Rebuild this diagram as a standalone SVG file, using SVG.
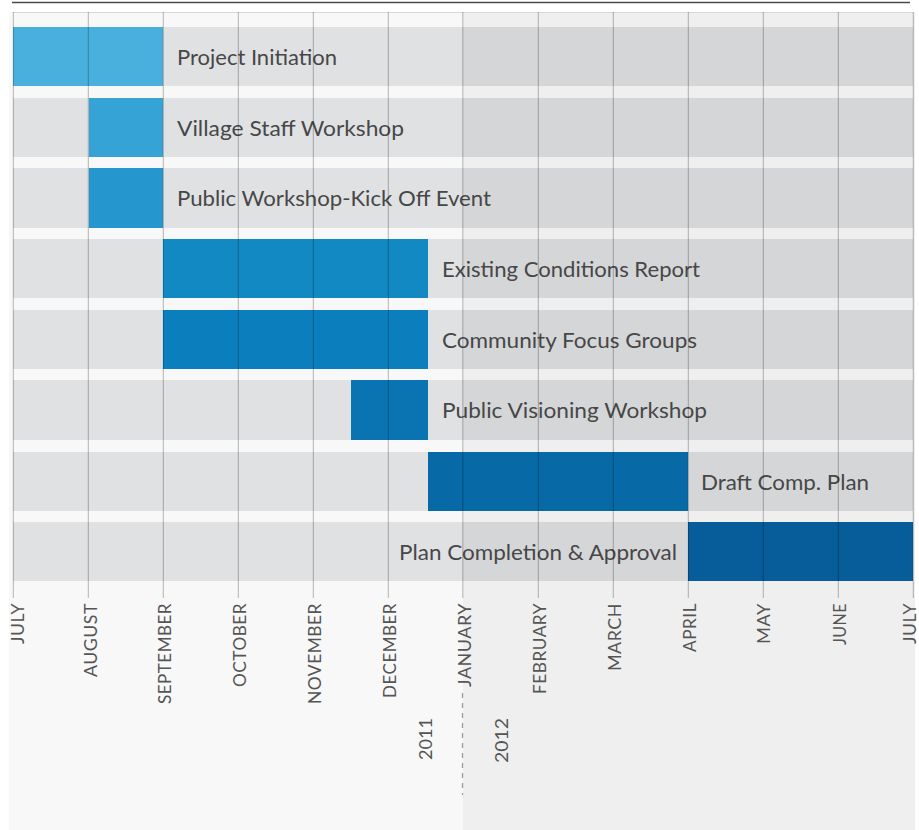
<svg xmlns="http://www.w3.org/2000/svg" width="919" height="830" viewBox="0 0 919 830">
  <style>
    .task { font-family: Lato, "Open Sans", "Liberation Sans", sans-serif; font-size: 21px; fill: #474747; }
    .month { font-family: Lato, "Open Sans", "Liberation Sans", sans-serif; font-size: 17px; fill: #555555; letter-spacing: 0.5px; }
    .year { font-family: Lato, "Open Sans", "Liberation Sans", sans-serif; font-size: 18px; fill: #555555; }
    .row2011 { fill: #e0e1e3; }
    .row2012 { fill: #d5d6d8; }
    .grid { stroke: #000; stroke-opacity: 0.28; stroke-width: 1; }
  </style>

  <rect x="0" y="0" width="919" height="830" fill="#ffffff"/>
  <!-- rule across the top -->
  <line x1="12" y1="2.5" x2="910" y2="2.5" stroke="#4a4a4a" stroke-width="1.5"/>

  <!-- backgrounds: 2011 half and 2012 half -->
  <g id="background">
    <rect x="9" y="12" width="454" height="818" fill="#f8f8f8"/>
    <rect x="463" y="12" width="452" height="818" fill="#efefef"/>
    <line x1="13" y1="12.5" x2="913" y2="12.5" stroke="#d8d8d8" stroke-width="1"/>
  </g>

  <!-- grey row bands -->
  <g id="rows">
    <rect class="row2011" x="13" y="27" width="450" height="59"/>
    <rect class="row2012" x="463" y="27" width="450" height="59"/>
    <rect class="row2011" x="13" y="98" width="450" height="59"/>
    <rect class="row2012" x="463" y="98" width="450" height="59"/>
    <rect class="row2011" x="13" y="168" width="450" height="60"/>
    <rect class="row2012" x="463" y="168" width="450" height="60"/>
    <rect class="row2011" x="13" y="239" width="450" height="59"/>
    <rect class="row2012" x="463" y="239" width="450" height="59"/>
    <rect class="row2011" x="13" y="310" width="450" height="59"/>
    <rect class="row2012" x="463" y="310" width="450" height="59"/>
    <rect class="row2011" x="13" y="380" width="450" height="60"/>
    <rect class="row2012" x="463" y="380" width="450" height="60"/>
    <rect class="row2011" x="13" y="452" width="450" height="59"/>
    <rect class="row2012" x="463" y="452" width="450" height="59"/>
    <rect class="row2011" x="13" y="522" width="450" height="59"/>
    <rect class="row2012" x="463" y="522" width="450" height="59"/>
  </g>

  <!-- tasks -->
  <g id="task-project-initiation">
    <rect x="13" y="27" width="150" height="59" fill="#49b0dd"/>
    <text class="task" x="177" y="65" textLength="160" lengthAdjust="spacingAndGlyphs">Project Initiation</text>
  </g>
  <g id="task-village-staff-workshop">
    <rect x="89" y="98" width="74" height="59" fill="#36a3d6"/>
    <text class="task" x="177" y="136" textLength="227" lengthAdjust="spacingAndGlyphs">Village Staff Workshop</text>
  </g>
  <g id="task-public-workshop">
    <rect x="89" y="168" width="74" height="60" fill="#2597ce"/>
    <text class="task" x="177" y="206" textLength="314" lengthAdjust="spacingAndGlyphs">Public Workshop-Kick Off Event</text>
  </g>
  <g id="task-existing-conditions">
    <rect x="163" y="239" width="265" height="59" fill="#1389c4"/>
    <text class="task" x="442" y="277" textLength="258" lengthAdjust="spacingAndGlyphs">Existing Conditions Report</text>
  </g>
  <g id="task-community-focus">
    <rect x="163" y="310" width="265" height="59" fill="#0b7fbd"/>
    <text class="task" x="442" y="348" textLength="255" lengthAdjust="spacingAndGlyphs">Community Focus Groups</text>
  </g>
  <g id="task-public-visioning">
    <rect x="351" y="380" width="77" height="60" fill="#0a74b2"/>
    <text class="task" x="442" y="418" textLength="265" lengthAdjust="spacingAndGlyphs">Public Visioning Workshop</text>
  </g>
  <g id="task-draft-plan">
    <rect x="428" y="452" width="260" height="59" fill="#0769a6"/>
    <text class="task" x="701" y="490" textLength="168" lengthAdjust="spacingAndGlyphs">Draft Comp. Plan</text>
  </g>
  <g id="task-plan-completion">
    <rect x="688" y="522" width="225" height="59" fill="#065d99"/>
    <text class="task" x="399" y="560" textLength="278" lengthAdjust="spacingAndGlyphs">Plan Completion &amp; Approval</text>
  </g>

  <!-- month grid lines -->
  <g id="grid">
    <line class="grid" x1="13.3" y1="12" x2="13.3" y2="598"/>
    <line class="grid" x1="88.3" y1="12" x2="88.3" y2="598"/>
    <line class="grid" x1="163.3" y1="12" x2="163.3" y2="598"/>
    <line class="grid" x1="238.3" y1="12" x2="238.3" y2="598"/>
    <line class="grid" x1="313.3" y1="12" x2="313.3" y2="598"/>
    <line class="grid" x1="388.3" y1="12" x2="388.3" y2="598"/>
    <line class="grid" x1="462.8" y1="12" x2="462.8" y2="598" stroke-opacity="0.45" stroke-width="1.6"/>
    <line class="grid" x1="538.3" y1="12" x2="538.3" y2="598"/>
    <line class="grid" x1="613.3" y1="12" x2="613.3" y2="598"/>
    <line class="grid" x1="688.3" y1="12" x2="688.3" y2="598"/>
    <line class="grid" x1="763.3" y1="12" x2="763.3" y2="598"/>
    <line class="grid" x1="838.3" y1="12" x2="838.3" y2="598"/>
    <line class="grid" x1="913.3" y1="12" x2="913.3" y2="598"/>
    <!-- year divider -->
    <line x1="462.5" y1="693" x2="462.5" y2="795" stroke="#9a9a9a" stroke-width="1.3" stroke-dasharray="5 5"/>
  </g>

  <!-- month labels -->
  <g id="months">
    <text class="month" transform="translate(23.5,603) rotate(-90)" text-anchor="end" textLength="41" lengthAdjust="spacingAndGlyphs">JULY</text>
    <text class="month" transform="translate(96.5,603) rotate(-90)" text-anchor="end" textLength="74" lengthAdjust="spacingAndGlyphs">AUGUST</text>
    <text class="month" transform="translate(171,603) rotate(-90)" text-anchor="end" textLength="101" lengthAdjust="spacingAndGlyphs">SEPTEMBER</text>
    <text class="month" transform="translate(246,603) rotate(-90)" text-anchor="end" textLength="84" lengthAdjust="spacingAndGlyphs">OCTOBER</text>
    <text class="month" transform="translate(321,603) rotate(-90)" text-anchor="end" textLength="101" lengthAdjust="spacingAndGlyphs">NOVEMBER</text>
    <text class="month" transform="translate(396,603) rotate(-90)" text-anchor="end" textLength="95" lengthAdjust="spacingAndGlyphs">DECEMBER</text>
    <text class="month" transform="translate(470.5,603) rotate(-90)" text-anchor="end" textLength="84" lengthAdjust="spacingAndGlyphs">JANUARY</text>
    <text class="month" transform="translate(545.5,603) rotate(-90)" text-anchor="end" textLength="91" lengthAdjust="spacingAndGlyphs">FEBRUARY</text>
    <text class="month" transform="translate(620.5,603) rotate(-90)" text-anchor="end" textLength="68" lengthAdjust="spacingAndGlyphs">MARCH</text>
    <text class="month" transform="translate(695.5,603) rotate(-90)" text-anchor="end" textLength="49" lengthAdjust="spacingAndGlyphs">APRIL</text>
    <text class="month" transform="translate(770,603) rotate(-90)" text-anchor="end" textLength="41" lengthAdjust="spacingAndGlyphs">MAY</text>
    <text class="month" transform="translate(845.5,603) rotate(-90)" text-anchor="end" textLength="42" lengthAdjust="spacingAndGlyphs">JUNE</text>
    <text class="month" transform="translate(916,603) rotate(-90)" text-anchor="end" textLength="41" lengthAdjust="spacingAndGlyphs">JULY</text>
  </g>

  <!-- year labels -->
  <g id="years">
    <text class="year" transform="translate(431.5,718) rotate(-90)" text-anchor="end" textLength="42" lengthAdjust="spacingAndGlyphs">2011</text>
    <text class="year" transform="translate(507.5,718) rotate(-90)" text-anchor="end" textLength="45" lengthAdjust="spacingAndGlyphs">2012</text>
  </g>
</svg>
